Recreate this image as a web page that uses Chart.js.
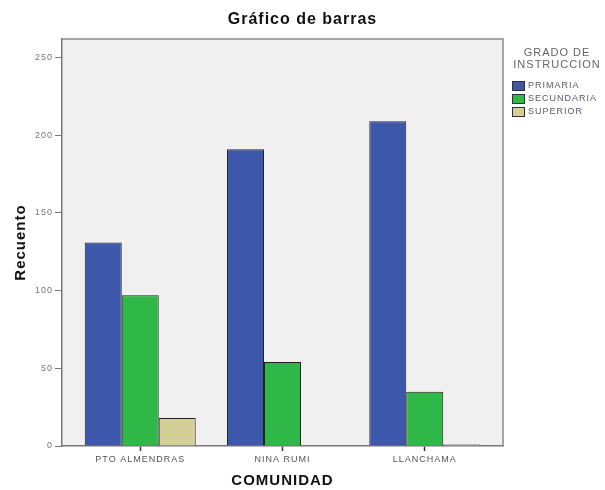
<!DOCTYPE html>
<html>
<head>
<meta charset="utf-8">
<title>Gráfico de barras</title>
<script src="https://cdn.jsdelivr.net/npm/chart.js@4.4.1/dist/chart.umd.min.js"></script>
<style>
  html, body { margin: 0; padding: 0; background: #ffffff; }
  canvas { display: block; }
</style>
</head>
<body>
<canvas id="chart" width="605" height="490"></canvas>
<script>
// Communities on the x axis
const categories = ['PTO ALMENDRAS', 'NINA RUMI', 'LLANCHAMA'];
// Counts per level of schooling
const primaria = [131, 191, 209];
const secundaria = [97, 54, 35];
const superior = [18, 0, 1];
const seriesNames = ['PRIMARIA', 'SECUNDARIA', 'SUPERIOR'];
const seriesColors = ['#3d57ab', '#2fb747', '#d4cf98'];
const yTicks = [0, 50, 100, 150, 200, 250];
const chartTitle = 'Gráfico de barras';
const legendTitle = ['GRADO DE', 'INSTRUCCION'];

const FONT = "'Liberation Sans', Arial, sans-serif";

const toPoints = arr => arr.map((v, i) => ({ x: i, y: v }));

// Slightly spaced lettering for all canvas text
const spacing = {
  id: 'spacing',
  beforeUpdate(chart) { chart.ctx.letterSpacing = '1px'; },
  beforeDraw(chart) { chart.ctx.letterSpacing = '1px'; }
};

// Grey plot background, frame and the page title
const plotFrame = {
  id: 'plotFrame',
  beforeDraw(chart) {
    const { ctx, chartArea: a } = chart;
    ctx.save();
    ctx.fillStyle = '#f0f0f0';
    ctx.fillRect(a.left, a.top, a.right - a.left, a.bottom - a.top);
    ctx.restore();
  },
  afterDraw(chart) {
    const { ctx, chartArea: a, width } = chart;
    ctx.save();
    ctx.strokeStyle = '#8a8a8a';
    ctx.lineWidth = 1.5;
    ctx.beginPath();
    ctx.moveTo(a.left, a.top);
    ctx.lineTo(a.right, a.top);
    ctx.lineTo(a.right, a.bottom);
    ctx.stroke();
    ctx.letterSpacing = '1px';
    ctx.fillStyle = '#111111';
    ctx.font = 'bold 16px ' + FONT;
    ctx.textAlign = 'center';
    ctx.textBaseline = 'middle';
    ctx.fillText(chartTitle, width / 2, 20);
    ctx.restore();
  }
};

// Legend block to the right of the plot
const sideLegend = {
  id: 'sideLegend',
  afterDraw(chart) {
    const { ctx, chartArea: a } = chart;
    ctx.save();
    ctx.letterSpacing = '1px';
    ctx.fillStyle = '#666666';
    ctx.textAlign = 'center';
    ctx.textBaseline = 'middle';
    ctx.font = '11px ' + FONT;
    const cx = a.right + 54;
    legendTitle.forEach((t, i) => ctx.fillText(t, cx, a.top + 14 + i * 12));
    ctx.textAlign = 'left';
    ctx.font = '9px ' + FONT;
    chart.data.datasets.forEach((ds, i) => {
      const y = a.top + 47 + i * 13;
      ctx.fillStyle = ds.backgroundColor;
      ctx.fillRect(a.right + 9, y - 4.5, 12, 9);
      ctx.strokeStyle = '#333333';
      ctx.lineWidth = 1;
      ctx.strokeRect(a.right + 9.5, y - 4.5, 12, 9);
      ctx.fillStyle = '#5a5a6a';
      ctx.fillText(ds.label, a.right + 25, y);
    });
    ctx.restore();
  }
};

new Chart(document.getElementById('chart'), {
  type: 'bar',
  data: {
    datasets: [
      { label: seriesNames[0], data: toPoints(primaria), backgroundColor: seriesColors[0] },
      { label: seriesNames[1], data: toPoints(secundaria), backgroundColor: seriesColors[1] },
      { label: seriesNames[2], data: toPoints(superior), backgroundColor: seriesColors[2] }
    ].map(ds => Object.assign(ds, {
      borderColor: '#222222',
      borderWidth: 1,
      borderSkipped: 'start',
      categoryPercentage: 0.78,
      barPercentage: 1
    }))
  },
  options: {
    responsive: false,
    animation: false,
    devicePixelRatio: 1,
    layout: { padding: { left: 0, right: 102, top: 39, bottom: 0 } },
    plugins: {
      legend: { display: false },
      tooltip: { enabled: false },
      title: { display: false }
    },
    scales: {
      x: {
        type: 'linear',
        offset: false,
        min: -0.55,
        max: 2.55,
        afterBuildTicks: s => { s.ticks = categories.map((_, i) => ({ value: i })); },
        afterFit: s => { s.height = 44; },
        ticks: {
          autoSkip: false,
          maxRotation: 0,
          padding: 3,
          color: '#555555',
          font: { family: FONT, size: 9 },
          callback: v => categories[v]
        },
        grid: { offset: false, drawOnChartArea: false, drawTicks: true, tickLength: 5, tickColor: '#333333', tickWidth: 1.5, color: '#333333' },
        border: { color: '#777777', width: 1.5 },
        title: {
          display: true,
          text: 'COMUNIDAD',
          color: '#111111',
          font: { family: FONT, size: 15, weight: 'bold' },
          padding: { top: 0, bottom: 0 }
        }
      },
      y: {
        min: 0,
        max: 262,
        afterBuildTicks: s => { s.ticks = yTicks.map(v => ({ value: v })); },
        afterFit: s => { s.width = 62; },
        ticks: {
          padding: 2,
          color: '#777777',
          font: { family: FONT, size: 9 }
        },
        grid: { drawOnChartArea: false, drawTicks: true, tickLength: 7, color: '#777777' },
        border: { color: '#777777', width: 1.5 },
        title: {
          display: true,
          text: 'Recuento',
          color: '#111111',
          font: { family: FONT, size: 15, weight: 'bold' },
          padding: { top: 12, bottom: 0 }
        }
      }
    }
  },
  plugins: [spacing, plotFrame, sideLegend]
});
</script>
</body>
</html>
